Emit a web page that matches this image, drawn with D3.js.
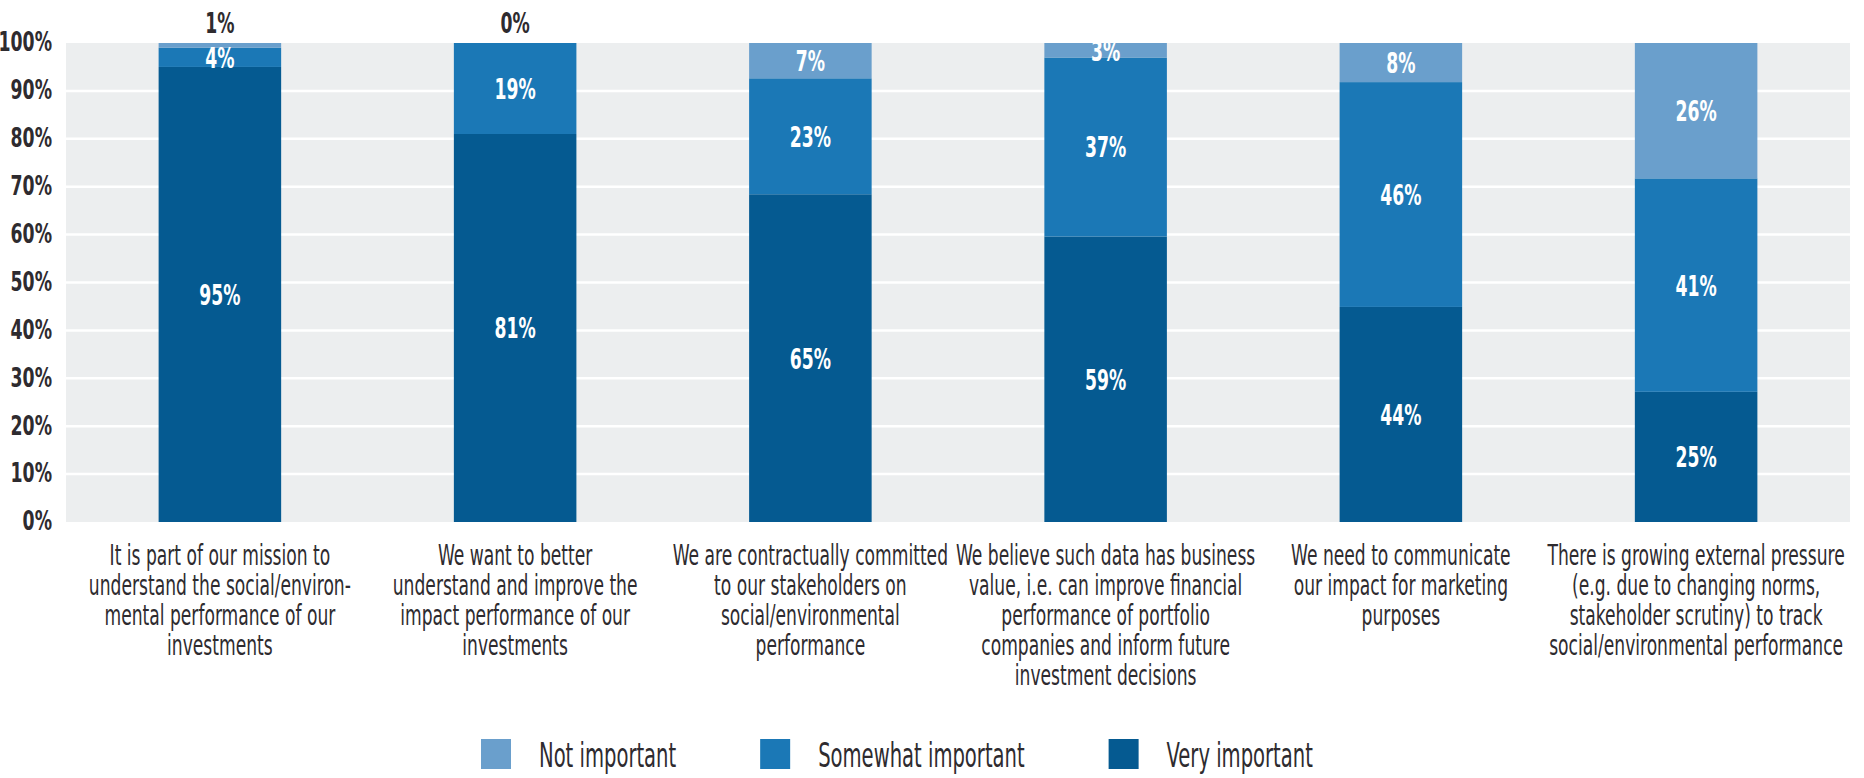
<!DOCTYPE html>
<html>
<head>
<meta charset="utf-8">
<script src="https://cdn.jsdelivr.net/npm/d3@7/dist/d3.min.js"></script>
<style>
  html, body { margin: 0; padding: 0; background: #ffffff; }
  svg { display: block; }
  text { font-family: "Liberation Sans Narrow", "DejaVu Sans Condensed", "Liberation Sans", sans-serif; }
</style>
</head>
<body>
<svg id="chart" width="1864" height="778"></svg>
<script>
// Reasons for tracking social/environmental performance (share of respondents)
const categories = [
  ["It is part of our mission to", "understand the social/environ-", "mental performance of our", "investments"],
  ["We want to better", "understand and improve the", "impact performance of our", "investments"],
  ["We are contractually committed", "to our stakeholders on", "social/environmental", "performance"],
  ["We believe such data has business", "value, i.e. can improve financial", "performance of portfolio", "companies and inform future", "investment decisions"],
  ["We need to communicate", "our impact for marketing", "purposes"],
  ["There is growing external pressure", "(e.g. due to changing norms,", "stakeholder scrutiny) to track", "social/environmental performance"]
];
const seriesNames = ["Very important", "Somewhat important", "Not important"];
const veryImportant     = [95, 81, 65, 59, 44, 25];
const somewhatImportant = [4, 19, 23, 37, 46, 41];
const notImportant      = [1, 0, 7, 3, 8, 26];
const yTicks = [0, 0.1, 0.2, 0.3, 0.4, 0.5, 0.6, 0.7, 0.8, 0.9, 1.0];
const legendOrder = ["Not important", "Somewhat important", "Very important"];

const colors = {
  "Very important": "#055a91",
  "Somewhat important": "#1b78b6",
  "Not important": "#6a9fcc"
};

const rows = categories.map((c, i) => ({
  idx: i,
  "Very important": veryImportant[i],
  "Somewhat important": somewhatImportant[i],
  "Not important": notImportant[i]
}));

const svg = d3.select("#chart");
const plot = { left: 66, right: 1850, top: 43, bottom: 522 };
const textColor = "#2e2b2f";

const x = d3.scaleBand()
  .domain(d3.range(categories.length))
  .range([73, 1843])
  .paddingInner(0.585)
  .paddingOuter(0.29);

const y = d3.scaleLinear().domain([0, 1]).range([plot.bottom, plot.top]);

// plot background
svg.append("rect")
  .attr("x", plot.left).attr("y", plot.top)
  .attr("width", plot.right - plot.left).attr("height", plot.bottom - plot.top)
  .attr("fill", "#eceeef");

// white gridlines
svg.append("g")
  .selectAll("line")
  .data(yTicks.slice(1, -1))
  .join("line")
  .attr("x1", plot.left).attr("x2", plot.right)
  .attr("y1", d => y(d)).attr("y2", d => y(d))
  .attr("stroke", "#ffffff").attr("stroke-width", 2.5);

// y axis tick labels
const yAxis = d3.axisLeft(y).tickValues(yTicks).tickFormat(d3.format(".0%")).tickSize(0).tickPadding(0);
const yg = svg.append("g").attr("transform", `translate(${plot.left - 14},0)`).call(yAxis);
yg.select(".domain").remove();
yg.selectAll(".tick text")
  .attr("fill", textColor)
  .attr("font-size", 26)
  .attr("font-weight", "bold")
  .attr("dy", "0.3em")
  .attr("x", 0)
  .attr("transform", "scale(0.74,1)");

// stacked bars normalised to 100%
const stack = d3.stack().keys(seriesNames).offset(d3.stackOffsetExpand);
const layers = stack(rows);

const layerG = svg.append("g").selectAll("g")
  .data(layers)
  .join("g")
  .attr("fill", d => colors[d.key]);

layerG.selectAll("rect")
  .data(d => d.map(s => ({ s, key: d.key })))
  .join("rect")
  .attr("x", d => x(d.s.data.idx))
  .attr("width", x.bandwidth())
  .attr("y", d => y(d.s[1]))
  .attr("height", d => y(d.s[0]) - y(d.s[1]));

// value labels
const labelData = [];
layers.forEach(layer => {
  layer.forEach(s => {
    const v = s.data[layer.key];
    const outside = v <= 1;
    labelData.push({
      v,
      cx: x(s.data.idx) + x.bandwidth() / 2,
      cy: outside ? y(1) - 20 : (y(s[0]) + y(s[1])) / 2,
      outside
    });
  });
});

svg.append("g").selectAll("text")
  .data(labelData)
  .join("text")
  .attr("transform", d => `translate(${d.cx},${d.cy}) scale(0.66,1)`)
  .attr("text-anchor", "middle")
  .attr("dy", "0.36em")
  .attr("font-size", 29)
  .attr("font-weight", "bold")
  .attr("fill", d => d.outside ? textColor : "#ffffff")
  .text(d => d.v + "%");

// category labels under the bars
const catG = svg.append("g").selectAll("g")
  .data(categories)
  .join("g")
  .attr("transform", (d, i) => `translate(${x(i) + x.bandwidth() / 2},565) scale(0.68,1)`);

catG.append("text")
  .attr("text-anchor", "middle")
  .attr("font-size", 28)
  .attr("fill", textColor)
  .selectAll("tspan")
  .data(d => d)
  .join("tspan")
  .attr("x", 0)
  .attr("dy", (d, i) => i === 0 ? 0 : 30)
  .text(d => d);

// legend
const legend = svg.append("g");
const legendSqueeze = 0.64;
let lx = 481;
legendOrder.forEach(name => {
  const item = legend.append("g").attr("transform", `translate(${lx},739)`);
  item.append("rect").attr("width", 30).attr("height", 30).attr("fill", colors[name]);
  const t = item.append("text")
    .attr("transform", `translate(58,28) scale(${legendSqueeze},1)`)
    .attr("font-size", 34)
    .attr("fill", textColor)
    .text(name);
  const w = t.node().getComputedTextLength() * legendSqueeze;
  lx += 58 + w + 84;
});
</script>
</body>
</html>
